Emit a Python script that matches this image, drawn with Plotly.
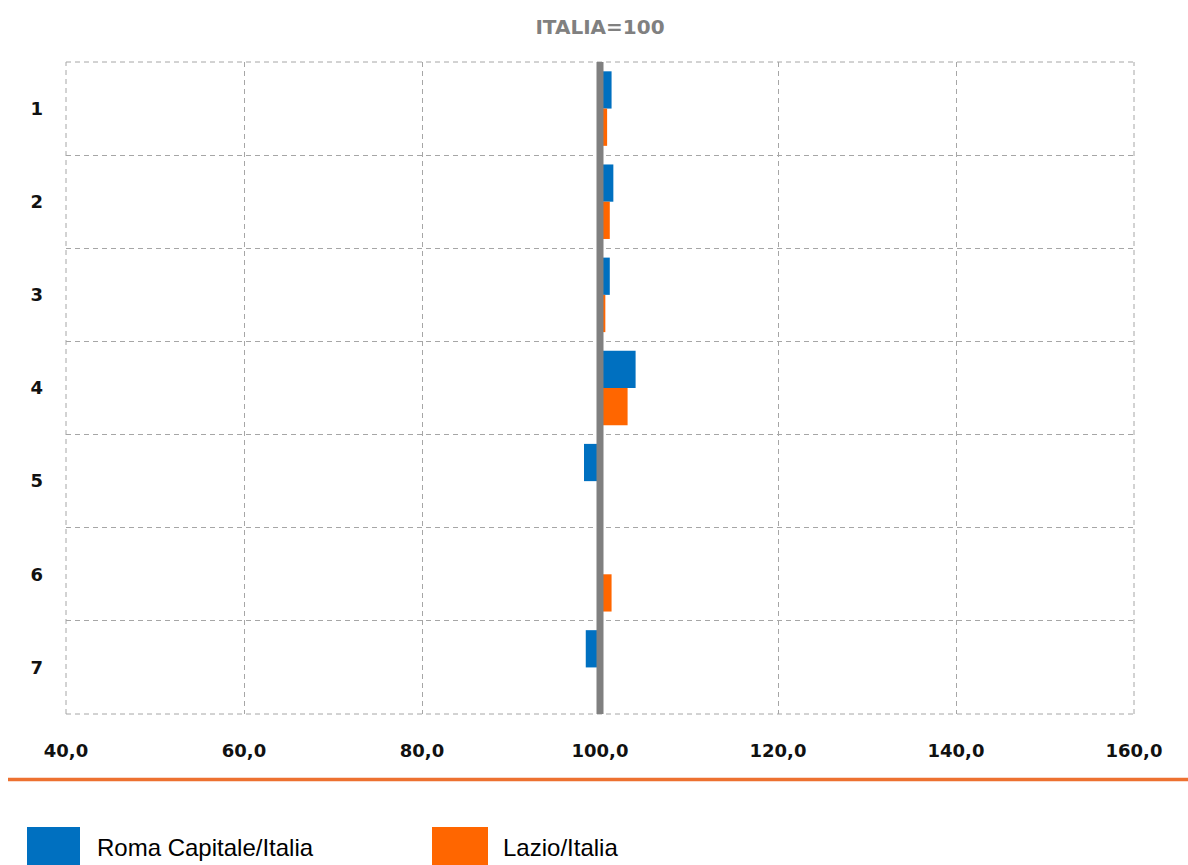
import plotly.graph_objects as go

# ---- data ----
categories = [1, 2, 3, 4, 5, 6, 7]
category_labels = ["1", "2", "3", "4", "5", "6", "7"]
roma_vals = [101.3, 101.5, 101.1, 104.0, 98.2, 99.9, 98.4]
lazio_vals = [100.8, 101.1, 100.6, 103.1, 99.9, 101.3, 99.8]
series_names = ["Roma Capitale/Italia", "Lazio/Italia"]
series_colors = ["#0070C0", "#FF6600"]
base_value = 100
x_ticks = [40, 60, 80, 100, 120, 140, 160]
title_text = "ITALIA=100"

fig = go.Figure()
for name, vals, col in zip(series_names, [roma_vals, lazio_vals], series_colors):
    fig.add_trace(go.Bar(
        y=categories,
        x=[v - base_value for v in vals],
        base=base_value,
        orientation="h",
        name=name,
        marker=dict(color=col, line=dict(width=0)),
        showlegend=False,
    ))

grid_col = "#A6A6A6"
fig.update_layout(
    width=1188, height=865,
    margin=dict(l=66, r=54, t=62, b=151),
    paper_bgcolor="white", plot_bgcolor="white",
    barmode="group", bargap=0.2, bargroupgap=0,
    separators=",.",
    showlegend=False,
    font=dict(family="DejaVu Sans", color="#1a1a1a"),
    title=dict(text="<b>%s</b>" % title_text, x=0.5, xref="paper", xanchor="center",
               y=1 - 27 / 865, yanchor="middle",
               font=dict(family="DejaVu Sans", size=20, color="#808080")),
    xaxis=dict(
        range=[40, 160], tickvals=x_ticks, tickformat=".1f",
        showgrid=True, gridcolor=grid_col, griddash="5px,4px", gridwidth=1,
        zeroline=False, showline=False, ticks="",
        tickfont=dict(family="DejaVu Sans", size=18, color="#111111", weight="bold"),
        ticklabelstandoff=24,
    ),
    yaxis=dict(
        range=[7.5, 0.5], tickvals=categories, ticktext=category_labels,
        showgrid=False, zeroline=False, showline=False, ticks="",
        minor=dict(tickmode="array", tickvals=[0.5 + i for i in range(8)], showgrid=True,
                   gridcolor=grid_col, griddash="5px,4px", gridwidth=1, ticks=""),
        tickfont=dict(family="DejaVu Sans", size=18, color="#111111", weight="bold"),
        ticklabelstandoff=22,
    ),
)

# plot-area border (dashed)
for xs, ys in [((0, 1), (1, 1)), ((0, 1), (0, 0)), ((0, 0), (0, 1)), ((1, 1), (0, 1))]:
    fig.add_shape(type="line", xref="paper", yref="paper", x0=xs[0], x1=xs[1], y0=ys[0], y1=ys[1],
                  line=dict(color=grid_col, width=1, dash="5px,4px"), layer="below")

# reference line at 100
fig.add_shape(type="line", xref="x", yref="paper", x0=base_value, x1=base_value, y0=0, y1=1,
              line=dict(color="#808080", width=7), layer="above")

# orange separator line
plot_h = 865 - 62 - 151
plot_w = 1188 - 66 - 54
def px_x(p):
    return (p - 66) / plot_w
def px_y(p):
    return (865 - 151 - p) / plot_h

fig.add_shape(type="line", xref="paper", yref="paper", x0=px_x(8), x1=px_x(1190),
              y0=px_y(779.5), y1=px_y(779.5), line=dict(color="#ED7130", width=3.5))

# legend (manual)
legend_items = [(27, 80, 95), (432, 488, 501)]
for (sx0, sx1, tx), name, col in zip(legend_items, series_names, series_colors):
    fig.add_shape(type="rect", xref="paper", yref="paper", x0=px_x(sx0), x1=px_x(sx1),
                  y0=px_y(827), y1=px_y(880), line=dict(width=0), fillcolor=col)
    fig.add_annotation(xref="paper", yref="paper", x=px_x(tx), y=px_y(847), text=name,
                       showarrow=False, xanchor="left", yanchor="middle",
                       font=dict(family="Liberation Sans", size=24, color="#000000"))

fig.write_html("out.html")
